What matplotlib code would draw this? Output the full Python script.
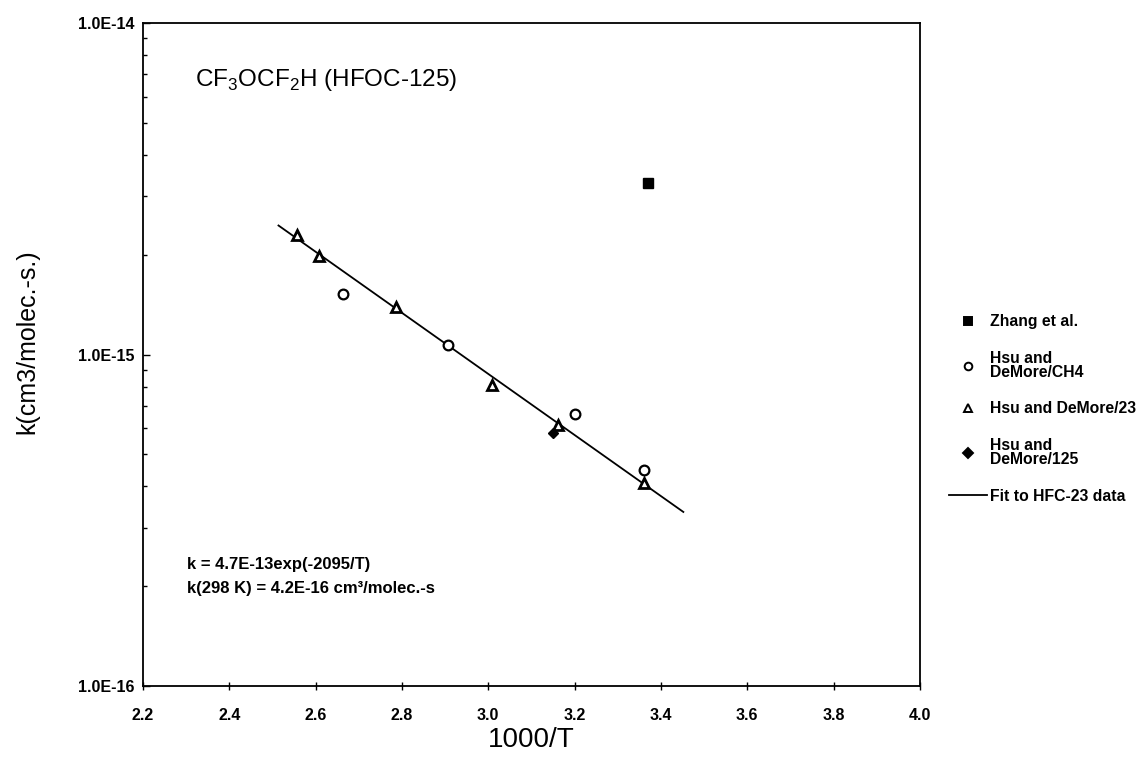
import numpy as np
import matplotlib
matplotlib.use("Agg")
import matplotlib.pyplot as plt

plt.rcParams['font.family'] = ['Liberation Sans', 'DejaVu Sans']
plt.rcParams['mathtext.fontset'] = 'custom'
plt.rcParams['mathtext.rm'] = 'Liberation Sans'
plt.rcParams['mathtext.bf'] = 'Liberation Sans:bold'

# donnees (x = 1000/T, y = k en cm3/molec.-s)
zhang_x = [3.37]
zhang_k = [3.30e-15]

ch4_x = [2.663, 2.906, 3.202, 3.362]
ch4_k = [1.52e-15, 1.07e-15, 6.6e-16, 4.48e-16]

hfc23_x = [2.556, 2.609, 2.787, 3.009, 3.161, 3.362]
hfc23_k = [2.29e-15, 1.98e-15, 1.39e-15, 8.07e-16, 6.14e-16, 4.11e-16]

hfoc125_x = [3.151]
hfoc125_k = [5.79e-16]

fit_x = [2.514, 3.452]
fit_k = [2.45e-15, 3.35e-16]

xticks = [2.2, 2.4, 2.6, 2.8, 3.0, 3.2, 3.4, 3.6, 3.8, 4.0]
yticks = [1e-16, 1e-15, 1e-14]
ytlabels = ['1.0E-16', '1.0E-15', '1.0E-14']

fig = plt.figure(figsize=(11.4, 7.57), dpi=100)
ax = fig.add_axes([0.1254, 0.0938, 0.6815, 0.8758])

ax.plot(fit_x, fit_k, color='black', lw=1.3, label='Fit to HFC-23 data', zorder=2)
ax.plot(zhang_x, zhang_k, 's', color='black', ms=7, label='Zhang et al.', zorder=3)
ax.plot(ch4_x, ch4_k, 'o', mfc='white', mec='black', mew=1.6, ms=7,
        label='Hsu and\nDeMore/CH4', zorder=3)
ax.plot(hfc23_x, hfc23_k, '^', mfc='white', mec='black', mew=2.0, ms=7,
        label='Hsu and DeMore/23', zorder=3)
ax.plot(hfoc125_x, hfoc125_k, 'D', color='black', ms=5,
        label='Hsu and\nDeMore/125', zorder=3)

ax.set_yscale('log')
ax.set_xlim(2.2, 4.0)
ax.set_ylim(1e-16, 1e-14)
ax.set_xticks(xticks)
ax.set_xticklabels(['%.1f' % v for v in xticks], fontsize=11.5, fontweight='bold')
ax.set_yticks(yticks)
ax.set_yticklabels(ytlabels, fontsize=11.5, fontweight='bold')
ax.tick_params(axis='x', direction='inout', length=6, width=1, pad=13)
ax.tick_params(axis='y', which='major', direction='in', length=5, width=1, pad=6)
ax.tick_params(axis='y', which='minor', direction='in', length=3, width=1)
for s in ax.spines.values():
    s.set_linewidth(1.3)

ax.set_xlabel('1000/T', fontsize=20, labelpad=3)
ax.set_ylabel('k(cm3/molec.-s.)', fontsize=18)
ax.yaxis.set_label_coords(-0.133, 0.52)

ax.text(0.0665, 0.914, r'CF$_3$OCF$_2$H (HFOC-125)', transform=ax.transAxes,
        fontsize=17.5, va='center')
fig.text(187 / 1140, 1 - 564 / 757, 'k = 4.7E-13exp(-2095/T)', fontsize=12,
         fontweight='bold', va='center')
fig.text(187 / 1140, 1 - 588 / 757, 'k(298 K) = 4.2E-16 cm\u00b3/molec.-s', fontsize=12,
         fontweight='bold', va='center')

h, l = ax.get_legend_handles_labels()
order = [1, 2, 3, 4, 0]
leg = ax.legend([h[i] for i in order], [l[i] for i in order],
                loc='upper left', bbox_to_anchor=(1.03, 0.5705), frameon=False,
                prop={'size': 11.3, 'weight': 'bold'}, handlelength=2.4,
                handletextpad=0.2, labelspacing=1.37, borderaxespad=0)
for t in leg.get_texts():
    t.set_linespacing(0.95)
for lh in leg.legend_handles:
    if lh.get_marker() not in (None, 'None', ''):
        lh.set_markersize(5.5)
        lh.set_markeredgewidth(1.4)

plt.savefig('out.png', dpi=100)
